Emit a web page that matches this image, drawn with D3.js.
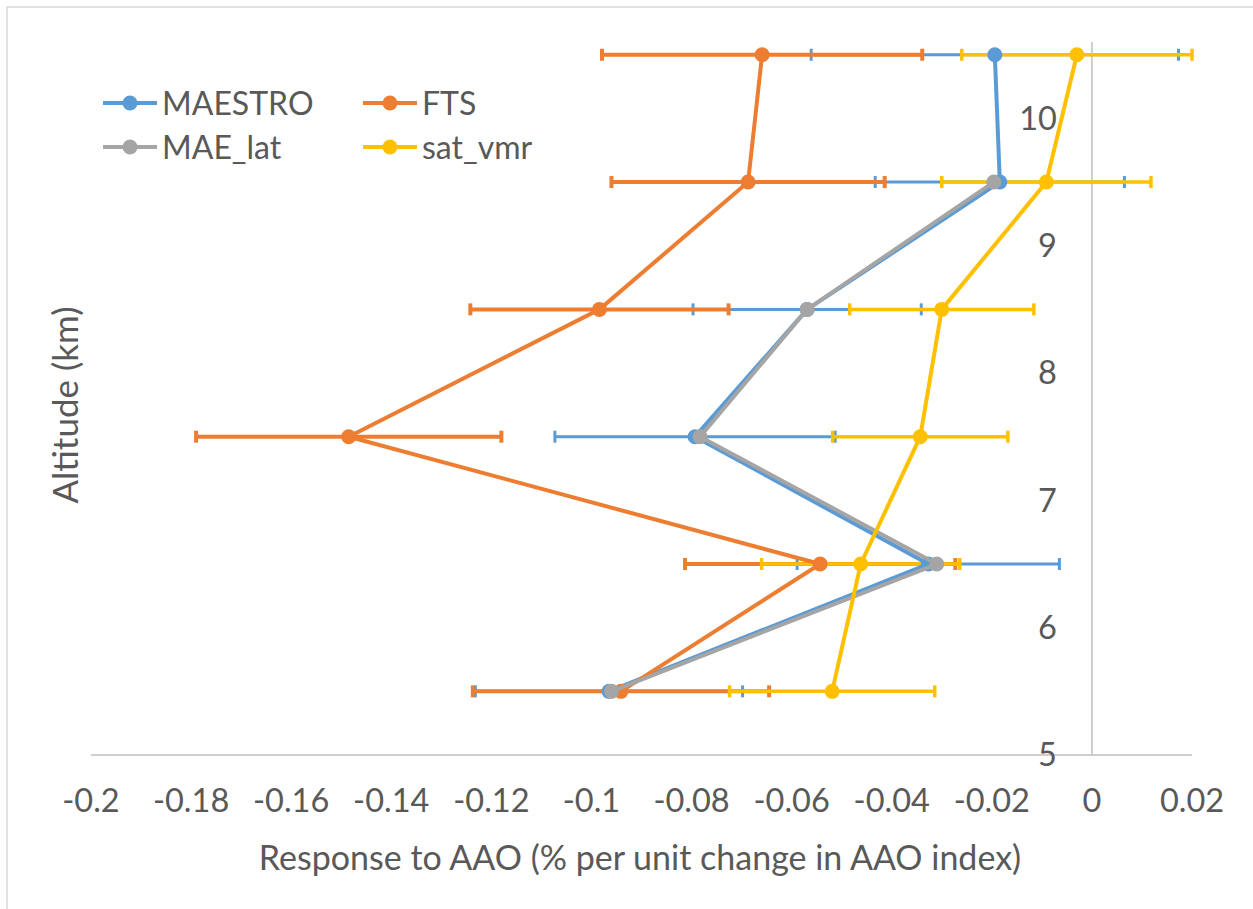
<!DOCTYPE html>
<html lang="en">
<head>
	<meta charset="UTF-8">
	<title>Response to AAO</title>
	<script src="https://d3js.org/d3.v7.min.js"></script>
	<style>
		body { margin: 0; background: #fff; }
		text { font-family: Lato, "Open Sans", sans-serif; fill: #595959; }
	</style>
</head>
<body>

	<div class="box"></div>

	<script type="text/javascript">
		let altitudes = [5.5, 6.5, 7.5, 8.5, 9.5, 10.5]
		let maestro = [-0.0965, -0.0327, -0.0793, -0.0569, -0.0184, -0.0194]
		let maestroErr = [0.0267, 0.0262, 0.028, 0.0228, 0.0249, 0.0367]
		let fts = [-0.0941, -0.0543, -0.1485, -0.0984, -0.0687, -0.0659]
		let ftsErr = [0.0296, 0.027, 0.0305, 0.0258, 0.0273, 0.032]
		let maeLat = [-0.096, -0.031, -0.0783, -0.0569, -0.0196, null]
		let satVmr = [-0.0519, -0.0462, -0.0343, -0.030, -0.0091, -0.003]
		let satVmrErr = [0.0205, 0.0198, 0.0175, 0.0184, 0.0209, 0.023]
		let xTicks = [-0.2, -0.18, -0.16, -0.14, -0.12, -0.1, -0.08, -0.06, -0.04, -0.02, 0, 0.02]
		let yTicks = [5, 6, 7, 8, 9, 10]

		let series = [
			{ name: 'MAESTRO', color: '#5b9bd5', values: maestro, err: maestroErr, errWidth: 3 },
			{ name: 'FTS', color: '#ed7d31', values: fts, err: ftsErr, errWidth: 4 },
			{ name: 'MAE_lat', color: '#a5a5a5', values: maeLat, err: null },
			{ name: 'sat_vmr', color: '#ffc000', values: satVmr, err: satVmrErr, errWidth: 3.5 }
		]

		let width = 1253
		let height = 909
		let svg = d3.select('.box').append('svg').attr('width', width).attr('height', height)

		// chart area border (only top/left visible in the picture)
		svg.append('rect')
			.attr('x', 7).attr('y', 7).attr('width', 1300).attr('height', 1000)
			.attr('fill', 'none').attr('stroke', '#d9d9d9').attr('stroke-width', 1.5)

		let x = d3.scaleLinear().domain([-0.2, 0.02]).range([91, 1192])
		let y = d3.scaleLinear().domain([5, 10.6]).range([755, 42])

		// axes
		svg.append('line')
			.attr('x1', x(-0.2)).attr('x2', x(0.02))
			.attr('y1', y(5)).attr('y2', y(5))
			.attr('stroke', '#bfbfbf').attr('stroke-width', 1.5)
		svg.append('line')
			.attr('x1', x(0)).attr('x2', x(0))
			.attr('y1', y(5)).attr('y2', y(10.6))
			.attr('stroke', '#bfbfbf').attr('stroke-width', 1.5)

		svg.selectAll('.xtick').data(xTicks).enter().append('text')
			.attr('class', 'xtick')
			.attr('x', d => x(d))
			.attr('y', 812)
			.attr('text-anchor', 'middle')
			.attr('font-size', '32.5px')
			.text(d => String(+d.toFixed(2)))

		svg.selectAll('.ytick').data(yTicks).enter().append('text')
			.attr('class', 'ytick')
			.attr('x', x(0) - 35)
			.attr('y', d => y(d))
			.attr('dy', '0.35em')
			.attr('text-anchor', 'end')
			.attr('font-size', '32.5px')
			.text(d => d)

		svg.append('text')
			.attr('x', 640).attr('y', 870)
			.attr('text-anchor', 'middle')
			.attr('font-size', '34px')
			.text('Response to AAO (% per unit change in AAO index)')

		svg.append('text')
			.attr('transform', 'translate(78,405) rotate(-90)')
			.attr('text-anchor', 'middle')
			.attr('font-size', '35px')
			.text('Altitude (km)')

		// error bars first
		let cap = 6
		series.forEach(s => {
			if (!s.err) return
			let g = svg.append('g').attr('stroke', s.color).attr('stroke-width', s.errWidth)
			altitudes.forEach((a, i) => {
				let lo = x(s.values[i] - s.err[i])
				let hi = x(s.values[i] + s.err[i])
				g.append('line').attr('x1', lo).attr('x2', hi).attr('y1', y(a)).attr('y2', y(a))
				g.append('line').attr('x1', lo).attr('x2', lo).attr('y1', y(a) - cap).attr('y2', y(a) + cap)
				g.append('line').attr('x1', hi).attr('x2', hi).attr('y1', y(a) - cap).attr('y2', y(a) + cap)
			})
		})

		let line = d3.line()
			.defined(d => d[0] != null)
			.x(d => x(d[0]))
			.y(d => y(d[1]))

		series.forEach(s => {
			let pts = s.values.map((v, i) => [v, altitudes[i]])
			svg.append('path')
				.attr('d', line(pts))
				.attr('fill', 'none')
				.attr('stroke', s.color)
				.attr('stroke-width', 4)
				.attr('stroke-linejoin', 'round')
			svg.selectAll(null).data(pts.filter(p => p[0] != null)).enter().append('circle')
				.attr('cx', d => x(d[0]))
				.attr('cy', d => y(d[1]))
				.attr('r', 7.5)
				.attr('fill', s.color)
		})

		// legend
		let legendPos = [[103, 103], [363, 103], [103, 147], [363, 147]]
		series.forEach((s, i) => {
			let [lx, ly] = legendPos[i]
			svg.append('line')
				.attr('x1', lx).attr('x2', lx + 54).attr('y1', ly).attr('y2', ly)
				.attr('stroke', s.color).attr('stroke-width', 4)
			svg.append('circle').attr('cx', lx + 27).attr('cy', ly).attr('r', 7.5).attr('fill', s.color)
			svg.append('text')
				.attr('x', lx + 59).attr('y', ly)
				.attr('dy', '0.36em')
				.attr('font-size', '32px')
				.text(s.name)
		})
	</script>
</body>
</html>
